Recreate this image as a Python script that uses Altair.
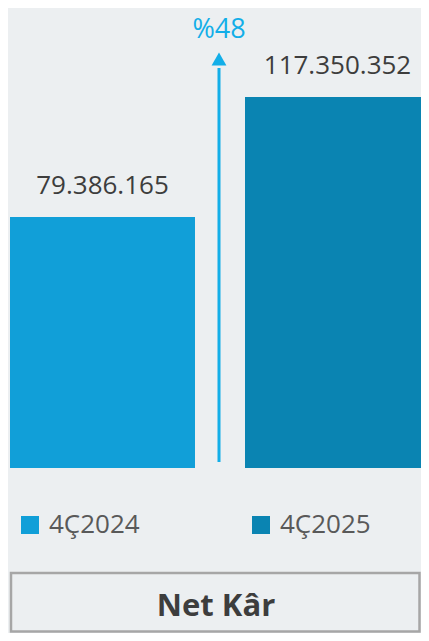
import altair as alt
import pandas as pd

periods = ["4Ç2024", "4Ç2025"]
values = [79386165, 117350352]
value_labels = ["79.386.165", "117.350.352"]
bar_colors = ["#119fd8", "#0a84b2"]
change_label = "%48"
box_title = "Net Kâr"

FONT = "Open Sans"
df = pd.DataFrame({"period": periods, "value": values, "label": value_labels})

W, H = 413, 625
xscale = alt.Scale(domain=periods, range=[2, 422], paddingInner=0.2128, paddingOuter=0)
yscale = alt.Scale(domain=[-52.19e6, 145.5e6], nice=False, zero=False)

base = alt.Chart(df)

bars = base.mark_bar().encode(
    x=alt.X("period:N", scale=xscale, axis=None, sort=periods),
    y=alt.Y("value:Q", scale=yscale, axis=None),
    y2=alt.datum(0),
    color=alt.Color(
        "period:N",
        scale=alt.Scale(domain=periods, range=bar_colors),
        legend=alt.Legend(
            title=None,
            orient="none",
            legendX=9,
            legendY=504,
            direction="horizontal",
            columns=2,
            columnPadding=108,
            symbolType="square",
            symbolSize=324,
            symbolStrokeWidth=0,
            labelFont=FONT,
            labelFontSize=26,
            labelColor="#595959",
            labelOffset=6,
        ),
    ),
)

labels = base.mark_text(font=FONT, fontSize=26, color="#3d3d3d", baseline="middle", dy=-31).encode(
    x=alt.X("period:N", scale=xscale, sort=periods),
    y=alt.Y("value:Q", scale=yscale),
    text="label:N",
)

arrow_line = alt.Chart(pd.DataFrame({"a": [0]})).mark_rule(color="#12aee8", strokeWidth=3).encode(
    x=alt.value(211), y=alt.value(454), y2=alt.value(60)
)
arrow_head = alt.Chart(pd.DataFrame({"a": [0]})).mark_point(
    shape="triangle-up", filled=True, color="#12aee8", opacity=1, size=220
).encode(x=alt.value(211), y=alt.value(51))
arrow_text = alt.Chart(pd.DataFrame({"t": [change_label]})).mark_text(
    font=FONT, fontSize=27, color="#12aee8", baseline="alphabetic"
).encode(x=alt.value(211), y=alt.value(30), text="t:N")

box = alt.Chart(pd.DataFrame({"a": [0]})).mark_rect(
    fill="transparent", stroke="#a6a6a6", strokeWidth=2.5
).encode(x=alt.value(3), x2=alt.value(411.5), y=alt.value(565), y2=alt.value(623.5))
box_text = alt.Chart(pd.DataFrame({"t": [box_title]})).mark_text(
    font=FONT, fontSize=31, fontWeight="bold", color="#3d3d3d", baseline="middle"
).encode(x=alt.value(208), y=alt.value(599), text="t:N")

chart = alt.layer(bars, labels, arrow_line, arrow_head, arrow_text, box, box_text).properties(
    width=W, height=H, padding=0, autosize=alt.AutoSizeParams(type="none"), background="#eceff1"
).configure_view(stroke=None)

chart.save("out.html", embed_options={"renderer": "svg", "actions": False})
